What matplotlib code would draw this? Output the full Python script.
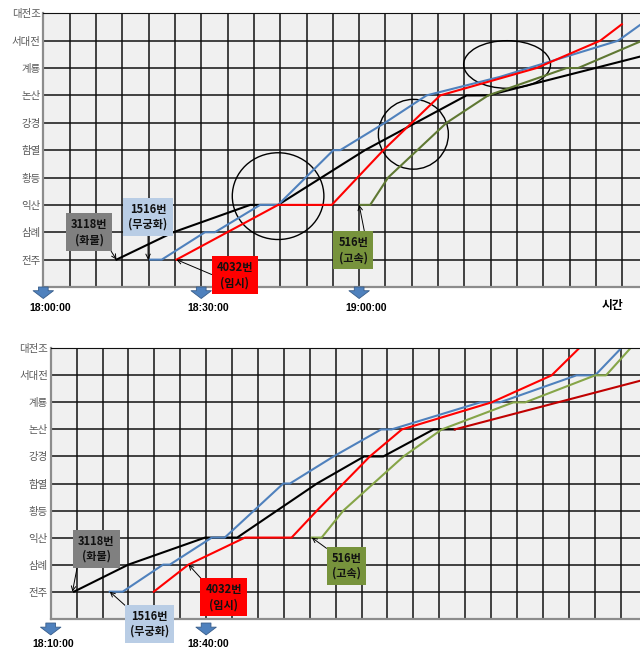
import matplotlib
matplotlib.use('Agg')
import numpy as np
import matplotlib.pyplot as plt
from matplotlib.patches import Ellipse
from matplotlib.transforms import blended_transform_factory

plt.rcParams['font.family'] = ['Noto Sans CJK KR', 'DejaVu Sans']

# station order along the line (0 = 전주)
stations = ['전주', '삼례', '익산', '황등', '함열', '강경', '논산', '계룡', '서대전', '대전조']

# ---- top chart: minutes after 18:00 / station index ----
top_3118_t = [13.9, 24.7, 39.3, 44.6, 61.1, 80.4, 84.5, 113.4]
top_3118_s = [0, 1, 2, 2, 4, 6, 6, 7.42]
top_1516_t = [20.3, 22.5, 30.7, 32.6, 41.2, 44.6, 55.1, 56.4, 64.9, 72.8, 86.8, 109.2, 113.4]
top_1516_s = [0, 0, 1, 1, 2, 2, 4, 4, 5, 6, 6.68, 8, 8.58]
top_4032_t = [25.3, 44.6, 54.8, 64.6, 75.4, 93.7, 105.8, 109.9]
top_4032_s = [0, 2, 2, 4, 6, 7, 8, 8.6]
top_516_t = [60.2, 62.1, 65.5, 76.6, 84.5, 99.4, 101.6, 113.4]
top_516_s = [2, 2, 3, 5, 6, 7, 7, 7.97]

# circles: centre time, centre station, width (min), height (stations)
top_circles = [(44.6, 2.32, 17.4, 3.17), (70.3, 4.58, 13.3, 2.55), (88.1, 7.13, 16.5, 1.74)]

# ---- bottom chart ----
bot_3118_t = [14.5, 25.0, 39.8, 46.0, 61.4, 70.5, 74.2, 83.9, 88.0]
bot_3118_s = [0, 1, 2, 2, 4, 5, 5, 6, 6]
bot_3118b_t = [88.0, 123.8]
bot_3118b_s = [6, 7.8]
bot_1516_t = [21.4, 23.9, 31.7, 33.0, 41.1, 43.6, 54.9, 56.2, 64.6, 73.8, 75.8, 92.9, 96.7, 111.5, 115.1, 119.9]
bot_1516_s = [0, 0, 1, 1, 2, 2, 4, 4, 5, 6, 6, 7, 7, 8, 8, 8.96]
bot_4032_t = [29.9, 36.6, 47.5, 56.5, 61.4, 71.6, 77.8, 95.1, 106.7, 112.0]
bot_4032_s = [0, 1, 2, 2, 3, 5, 6, 7, 8, 9]
bot_516_t = [60.4, 62.3, 66.5, 78.1, 85.5, 99.3, 101.6, 115.1, 117.2, 121.9]
bot_516_s = [2, 2, 3, 5, 6, 7, 7, 8, 8, 9]

top_ticks = [0, 30, 60]
top_tick_labels = ['18:00:00', '18:30:00', '19:00:00']
bot_ticks = [10, 40]
bot_tick_labels = ['18:10:00', '18:40:00']

note_3118 = '3118번\n(화물)'
note_1516 = '1516번\n(무궁화)'
note_4032 = '4032번\n(임시)'
note_516 = '516번\n(고속)'

BLUE = '#4f81bd'
RED = '#ff0000'
GRAY_BOX = '#808080'
BLUE_BOX = '#b9cde5'
GREEN_BOX = '#77933c'

fig = plt.figure(figsize=(6.4, 6.5), dpi=100)
ax1 = fig.add_axes([43.3 / 640, 1 - 287 / 650, (640 - 43.3) / 640, (287 - 13.3) / 650])
ax2 = fig.add_axes([50.7 / 640, 1 - 618.7 / 650, (640 - 50.7) / 640, (618.7 - 348.3) / 650])


def setup(ax, x0, x1):
    ax.set_xlim(x0, x1)
    ax.set_ylim(-1, 9)
    ax.set_facecolor('#f0f0f0')
    ax.set_xticks(np.arange(x0, x1, 5))
    ax.set_xticklabels([])
    ax.set_yticks(range(-1, 10))
    ax.set_yticklabels([''] + stations, fontsize=7.5, color='#595959')
    ax.tick_params(length=0, pad=2)
    ax.grid(True, color='#111111', lw=1.1)
    ax.set_axisbelow(True)
    for side in ['left', 'bottom']:
        ax.spines[side].set_color('#8c8c8c')
        ax.spines[side].set_linewidth(1.6)
    ax.spines['top'].set_color('#111111')
    ax.spines['right'].set_visible(False)


def time_marks(ax, ticks, labels, y_top, y_tip, y_text, dx):
    tr = blended_transform_factory(ax.transData, ax.transAxes)
    for t, lab in zip(ticks, labels):
        ax.annotate('', xy=(t, y_tip), xytext=(t, y_top), xycoords=tr, textcoords=tr,
                    arrowprops=dict(arrowstyle='simple,head_length=0.4,head_width=1.05,tail_width=0.5',
                                    mutation_scale=14, fc=BLUE, ec='#385d8a', lw=0.6,
                                    shrinkA=0, shrinkB=0), annotation_clip=False)
        ax.text(t + dx, y_text, lab, transform=tr, ha='center', va='center',
                fontsize=7.5, fontweight='bold', family=['Liberation Sans', 'DejaVu Sans'])


def note(ax, text, target, center, color, rel):
    ax.annotate(text, xy=target, xytext=center, ha='center', va='center',
                fontsize=8, fontweight='bold', color='#111111', linespacing=1.2,
                bbox=dict(boxstyle='square,pad=0.45', fc=color, ec='none'),
                arrowprops=dict(arrowstyle='->', color='black', lw=0.7,
                                shrinkA=0, shrinkB=0, relpos=rel),
                annotation_clip=False, zorder=5)


# ---- top ----
setup(ax1, 0, 113.35)
ax1.plot(top_3118_t, top_3118_s, color='black', lw=1.5)
ax1.plot(top_1516_t, top_1516_s, color=BLUE, lw=1.5)
ax1.plot(top_4032_t, top_4032_s, color=RED, lw=1.5)
ax1.plot(top_516_t, top_516_s, color='#5f7833', lw=1.5)
for cx, cy, w, h in top_circles:
    ax1.add_patch(Ellipse((cx, cy), w, h, fill=False, ec='black', lw=1.0))
note(ax1, note_3118, (top_3118_t[0], 0), (8.7, 1.0), GRAY_BOX, (0.97, 0.1))
note(ax1, note_1516, (19.9, 0), (19.9, 1.56), BLUE_BOX, (0.5, 0))
note(ax1, note_4032, (top_4032_t[0], 0), (36.4, -0.57), RED, (0, 0.45))
note(ax1, note_516, (60.0, 2), (58.9, 0.35), GREEN_BOX, (0.9, 1))
time_marks(ax1, top_ticks, top_tick_labels, 0.0, -0.042, -0.076, 1.3)
ax1.text(108.2, -0.066, '시간', transform=blended_transform_factory(ax1.transData, ax1.transAxes),
         ha='center', va='center', fontsize=8.5, fontweight='bold')

# ---- bottom ----
setup(ax2, 10, 123.76)
ax2.plot(bot_3118_t, bot_3118_s, color='black', lw=1.5)
ax2.plot(bot_3118b_t, bot_3118b_s, color='#c00000', lw=1.5)
ax2.plot(bot_1516_t, bot_1516_s, color=BLUE, lw=1.5)
ax2.plot(bot_4032_t, bot_4032_s, color=RED, lw=1.5)
ax2.plot(bot_516_t, bot_516_s, color='#86a548', lw=1.5)
note(ax2, note_3118, (14.2, 0), (18.8, 1.58), GRAY_BOX, (0, 0))
note(ax2, note_1516, (bot_1516_t[0], 0), (29.1, -1.19), BLUE_BOX, (0, 1))
note(ax2, note_4032, (36.6, 1), (43.4, -0.21), RED, (0, 1))
note(ax2, note_516, (bot_516_t[0], 2), (67.1, 0.95), GREEN_BOX, (0, 1))
time_marks(ax2, bot_ticks, bot_tick_labels, -0.016, -0.06, -0.095, 0.4)

fig.savefig('out.png', dpi=100)
